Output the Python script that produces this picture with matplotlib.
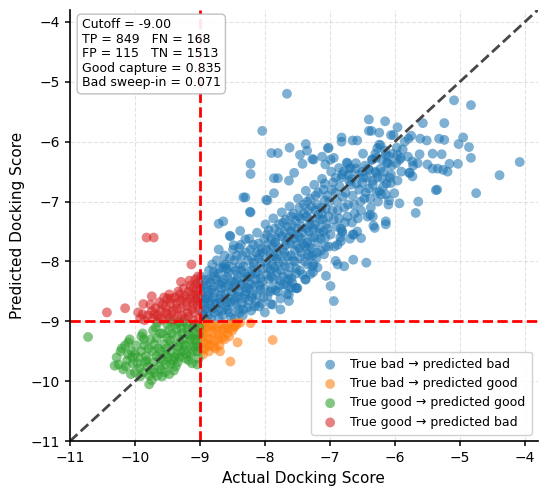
import matplotlib
matplotlib.use("Agg")
import matplotlib.pyplot as plt

# --- CONFIGURATION ---
cutoff = -9.00
axis_min, axis_max = -11.0, -3.8
output_filename = "out.png"

# --- DATA (actual, predicted) ---
# True bad -> predicted bad (actual > cutoff, predicted > cutoff)
bad_bad = [
    # dense core, slices along actual score
    (-8.98, -8.25), (-8.95, -8.4), (-8.97, -8.55), (-8.93, -8.7), (-8.96, -8.85), (-8.92, -8.97),
    (-8.9, -8.3), (-8.88, -8.5), (-8.91, -8.62), (-8.89, -8.78), (-8.94, -8.9), (-8.99, -8.68),
    (-8.86, -8.15), (-8.84, -8.35), (-8.82, -8.47), (-8.8, -8.6), (-8.85, -8.72), (-8.78, -8.85),
    (-8.83, -8.95), (-8.77, -8.25), (-8.76, -8.7), (-8.81, -8.05), (-8.79, -8.42), (-8.87, -8.58),
    (-8.74, -7.98), (-8.72, -8.2), (-8.7, -8.38), (-8.68, -8.55), (-8.73, -8.7), (-8.66, -8.82),
    (-8.71, -8.95), (-8.64, -8.1), (-8.69, -8.62), (-8.63, -8.3), (-8.67, -8.45), (-8.65, -8.9),
    (-8.62, -7.9), (-8.6, -8.05), (-8.58, -8.25), (-8.55, -8.4), (-8.61, -8.55), (-8.53, -8.68),
    (-8.57, -8.8), (-8.52, -8.93), (-8.59, -8.12), (-8.51, -8.33), (-8.56, -8.6), (-8.54, -7.95),
    (-8.6, -8.75), (-8.49, -7.8), (-8.47, -7.98), (-8.45, -8.15), (-8.43, -8.3), (-8.48, -8.45),
    (-8.41, -8.58), (-8.44, -8.72), (-8.39, -8.86), (-8.46, -8.95), (-8.38, -8.05), (-8.42, -8.22),
    (-8.4, -8.5), (-8.47, -8.65), (-8.37, -7.72), (-8.35, -7.9), (-8.33, -8.08), (-8.31, -8.2),
    (-8.36, -8.37), (-8.29, -8.5), (-8.32, -8.62), (-8.27, -8.77), (-8.34, -8.9), (-8.26, -7.98),
    (-8.3, -8.3), (-8.28, -8.44), (-8.35, -8.7), (-8.24, -7.62), (-8.22, -7.8), (-8.2, -7.95),
    (-8.18, -8.1), (-8.23, -8.25), (-8.16, -8.4), (-8.19, -8.55), (-8.14, -8.68), (-8.21, -8.82),
    (-8.13, -7.85), (-8.17, -8.02), (-8.15, -8.3), (-8.2, -8.6), (-8.24, -8.45), (-8.12, -7.52),
    (-8.1, -7.7), (-8.08, -7.88), (-8.06, -8.02), (-8.11, -8.18), (-8.04, -8.33), (-8.07, -8.47),
    (-8.02, -8.6), (-8.09, -8.75), (-8.01, -7.62), (-8.05, -7.78), (-8.03, -8.12), (-8.08, -8.4),
    (-8.0, -8.85), (-7.99, -7.38), (-7.97, -7.55), (-7.95, -7.7), (-7.93, -7.85), (-7.98, -8.0),
    (-7.91, -8.15), (-7.94, -8.3), (-7.89, -8.45), (-7.96, -8.58), (-7.88, -8.72), (-7.9, -7.62),
    (-7.92, -7.95), (-7.97, -8.22), (-7.89, -8.05), (-7.87, -7.28), (-7.85, -7.45), (-7.83, -7.6),
    (-7.81, -7.75), (-7.86, -7.9), (-7.79, -8.02), (-7.82, -8.18), (-7.77, -8.32), (-7.84, -8.48),
    (-7.76, -8.62), (-7.78, -7.52), (-7.8, -7.88), (-7.85, -8.1), (-7.77, -8.4), (-7.74, -7.18),
    (-7.72, -7.35), (-7.7, -7.5), (-7.68, -7.65), (-7.73, -7.8), (-7.66, -7.92), (-7.69, -8.08),
    (-7.64, -8.22), (-7.71, -8.38), (-7.63, -8.55), (-7.65, -7.42), (-7.67, -7.72), (-7.72, -8.0),
    (-7.64, -8.3), (-7.62, -7.08), (-7.6, -7.25), (-7.58, -7.4), (-7.56, -7.55), (-7.61, -7.7),
    (-7.54, -7.82), (-7.57, -7.98), (-7.52, -8.12), (-7.59, -8.28), (-7.51, -8.45), (-7.53, -7.32),
    (-7.55, -7.62), (-7.6, -7.9), (-7.52, -8.2), (-7.49, -6.95), (-7.47, -7.1), (-7.45, -7.28),
    (-7.43, -7.42), (-7.48, -7.58), (-7.41, -7.7), (-7.44, -7.85), (-7.39, -8.0), (-7.46, -8.15),
    (-7.38, -8.3), (-7.4, -7.2), (-7.42, -7.52), (-7.47, -7.78), (-7.37, -6.82), (-7.35, -7.0),
    (-7.33, -7.15), (-7.31, -7.3), (-7.36, -7.45), (-7.29, -7.6), (-7.32, -7.75), (-7.27, -7.9),
    (-7.34, -8.05), (-7.26, -8.18), (-7.28, -7.08), (-7.3, -7.38), (-7.35, -7.68), (-7.24, -6.72),
    (-7.22, -6.9), (-7.2, -7.05), (-7.18, -7.22), (-7.23, -7.38), (-7.16, -7.52), (-7.19, -7.68),
    (-7.14, -7.82), (-7.21, -7.95), (-7.13, -7.1), (-7.17, -7.45), (-7.12, -6.62), (-7.1, -6.8),
    (-7.08, -6.98), (-7.06, -7.12), (-7.11, -7.3), (-7.04, -7.45), (-7.07, -7.6), (-7.02, -7.75),
    (-7.09, -7.88), (-7.01, -7.0), (-7.05, -7.38), (-6.98, -6.5), (-6.95, -6.68), (-6.92, -6.85),
    (-6.89, -7.0), (-6.96, -7.15), (-6.86, -7.28), (-6.9, -7.42), (-6.84, -7.6), (-6.93, -7.75),
    (-6.8, -6.92), (-6.78, -7.1), (-6.82, -6.6), (-6.77, -7.35), (-6.74, -6.35), (-6.71, -6.55),
    (-6.68, -6.72), (-6.65, -6.9), (-6.72, -7.05), (-6.62, -7.2), (-6.66, -7.35), (-6.58, -7.5),
    (-6.69, -7.62), (-6.55, -6.8), (-6.53, -7.0), (-6.6, -6.45), (-6.57, -7.28), (-6.49, -6.2),
    (-6.46, -6.4), (-6.43, -6.6), (-6.4, -6.78), (-6.47, -6.95), (-6.37, -7.1), (-6.42, -7.25),
    (-6.33, -7.4), (-6.3, -6.5), (-6.28, -6.85), (-6.35, -6.3), (-6.26, -7.0), (-6.24, -6.05),
    (-6.2, -6.3), (-6.17, -6.5), (-6.13, -6.7), (-6.21, -6.88), (-6.1, -7.05), (-6.05, -6.4),
    (-6.03, -6.2), (-6.08, -6.6), (-6.15, -6.15), (-5.97, -6.1), (-5.93, -6.3), (-5.9, -6.5),
    (-5.85, -6.0), (-5.8, -6.25), (-5.75, -5.9), (-5.72, -6.4),
    # second pass over the core, filling the gaps
    (-8.99, -8.4), (-8.96, -8.62), (-8.93, -8.8), (-8.91, -8.45), (-8.88, -8.92), (-8.86, -8.3),
    (-8.84, -8.65), (-8.81, -8.8), (-8.79, -8.18), (-8.77, -8.52), (-8.74, -8.3), (-8.72, -8.82),
    (-8.7, -8.12), (-8.68, -8.68), (-8.66, -8.35), (-8.63, -8.05), (-8.61, -8.42), (-8.58, -8.68),
    (-8.56, -8.18), (-8.54, -8.85), (-8.51, -8.5), (-8.5, -8.1), (-8.47, -8.35), (-8.45, -8.6),
    (-8.43, -7.9), (-8.41, -8.8), (-8.38, -8.4), (-8.36, -8.15), (-8.33, -8.8), (-8.31, -8.55),
    (-8.29, -7.85), (-8.27, -8.25), (-8.25, -8.65), (-8.22, -8.38), (-8.2, -8.15), (-8.18, -7.72),
    (-8.16, -8.75), (-8.14, -8.2), (-8.12, -8.55), (-8.1, -7.95), (-8.07, -8.28), (-8.05, -8.7),
    (-8.03, -7.85), (-8.01, -8.45), (-7.98, -7.8), (-7.96, -8.1), (-7.94, -7.48), (-7.92, -8.5),
    (-7.9, -8.25), (-7.88, -7.75), (-7.86, -8.3), (-7.84, -7.68), (-7.82, -7.95), (-7.8, -8.5),
    (-7.78, -7.38), (-7.76, -8.15), (-7.74, -7.58), (-7.72, -8.25), (-7.7, -7.85), (-7.68, -7.3),
    (-7.66, -8.4), (-7.64, -7.6), (-7.62, -8.1), (-7.6, -7.5), (-7.58, -8.35), (-7.56, -7.2),
    (-7.54, -8.0), (-7.52, -7.72), (-7.5, -7.45), (-7.48, -7.25), (-7.46, -7.95), (-7.44, -7.62),
    (-7.42, -8.22), (-7.4, -7.05), (-7.38, -7.75), (-7.36, -7.25), (-7.34, -7.88), (-7.32, -7.5),
    (-7.3, -6.95), (-7.28, -7.78), (-7.26, -7.45), (-7.24, -7.6), (-7.22, -7.15), (-7.2, -7.85),
    (-7.18, -6.85), (-7.16, -7.3), (-7.14, -7.62), (-7.12, -7.2), (-7.1, -7.5), (-7.08, -6.7),
    (-7.06, -7.75), (-7.04, -6.9), (-7.02, -7.25), (-6.99, -7.55), (-6.97, -6.8), (-6.94, -7.3),
    (-6.91, -6.6), (-6.88, -7.15), (-6.85, -6.75), (-6.83, -7.45), (-6.79, -6.5), (-6.76, -6.85),
    (-6.73, -7.25), (-6.7, -6.45), (-6.67, -6.62), (-6.63, -7.05), (-6.59, -6.7), (-6.56, -6.55),
    (-6.52, -7.15), (-6.48, -6.6), (-6.45, -6.85), (-6.41, -6.45), (-6.38, -6.95), (-6.34, -6.65),
    (-6.3, -6.2), (-6.27, -6.6), (-6.22, -6.45), (-6.18, -6.75), (-6.12, -6.35), (-6.06, -6.55),
    # sparser points and outliers
    (-7.66, -5.20), (-5.09, -5.31), (-4.83, -5.39), (-6.40, -5.63), (-6.15, -5.66), (-5.96, -5.76),
    (-5.57, -5.69), (-5.24, -5.69), (-6.40, -5.82), (-6.36, -5.82), (-6.24, -5.85), (-6.06, -5.89),
    (-6.02, -5.89), (-6.82, -5.93), (-6.82, -6.00), (-6.65, -5.98), (-6.58, -5.98), (-5.79, -5.95),
    (-5.61, -5.95), (-5.51, -5.98), (-5.32, -5.95), (-5.24, -5.97), (-4.95, -5.93), (-5.02, -6.04),
    (-4.86, -6.09), (-4.83, -6.27), (-4.08, -6.34), (-4.39, -6.56), (-4.75, -6.86), (-5.03, -6.37),
    (-5.16, -6.37), (-5.42, -6.20), (-5.28, -6.21), (-5.50, -6.38), (-5.42, -6.45), (-5.34, -6.45),
    (-5.26, -6.47), (-5.19, -6.50), (-5.62, -6.21), (-5.65, -6.36), (-5.73, -6.33), (-5.77, -6.52),
    (-5.73, -6.58), (-5.37, -6.81), (-5.35, -6.80), (-5.64, -7.00), (-5.68, -7.19), (-5.93, -7.03),
    (-6.14, -7.33), (-6.14, -7.38), (-6.31, -7.44), (-6.34, -7.25), (-6.38, -7.22), (-6.63, -7.55),
    (-6.52, -7.61), (-6.81, -7.49), (-6.83, -7.66), (-7.80, -6.19), (-7.62, -6.10), (-7.46, -6.22),
    (-7.37, -6.04), (-7.35, -6.15), (-7.02, -6.10), (-7.27, -6.29), (-7.12, -6.25), (-7.07, -6.38),
    (-6.99, -6.30), (-6.94, -6.27), (-6.86, -6.44), (-6.73, -6.36), (-6.68, -6.44), (-6.60, -6.36),
    (-6.81, -6.55), (-6.27, -6.11), (-6.22, -6.06), (-6.35, -6.30), (-6.29, -6.27), (-6.14, -6.22),
    (-6.09, -6.25), (-5.96, -6.22), (-5.88, -6.13), (-5.91, -6.27), (-5.98, -6.36), (-6.11, -6.36),
    (-6.50, -6.50), (-6.40, -6.47), (-6.29, -6.52), (-6.19, -6.61), (-6.06, -6.69), (-5.96, -6.65),
    (-5.78, -6.52), (-6.70, -6.66), (-6.50, -6.69), (-6.34, -6.72), (-6.24, -6.83), (-6.14, -6.88),
    (-6.01, -6.86), (-6.09, -6.98), (-8.04, -5.82), (-8.22, -6.37), (-8.22, -6.54), (-8.30, -6.93),
    (-8.23, -7.17), (-7.96, -6.98), (-7.86, -6.86), (-8.71, -7.37), (-8.64, -7.33), (-8.53, -7.58),
    (-8.38, -7.49), (-8.71, -7.80), (-7.90, -6.19), (-7.86, -6.61), (-7.80, -6.61), (-7.63, -6.65),
    (-7.55, -6.52), (-7.42, -6.37), (-7.25, -6.30), (-7.03, -6.11), (-8.33, -6.93), (-7.98, -6.97),
    (-8.22, -7.18), (-8.54, -7.57), (-8.48, -7.73), (-8.40, -7.77), (-8.30, -7.63), (-7.91, -8.71),
    (-7.76, -8.80), (-7.60, -8.44), (-7.50, -8.44), (-7.37, -8.30), (-6.99, -8.41), (-6.94, -8.66),
    (-7.06, -8.24), (-7.19, -8.10), (-7.25, -8.05), (-7.32, -7.91), (-6.91, -7.99), (-6.88, -8.05),
    (-6.78, -8.08), (-6.64, -7.97), (-6.44, -8.02), (-6.88, -7.72), (-6.81, -7.52), (-6.65, -7.55),
    (-7.66, -8.54), (-7.63, -8.66), (-7.53, -8.44), (-7.30, -8.21), (-7.27, -8.08),
]

# True bad -> predicted good (actual > cutoff, predicted < cutoff)
bad_good = [
    (-8.97, -9.05), (-8.95, -9.2), (-8.93, -9.35), (-8.96, -9.48), (-8.9, -9.1), (-8.88, -9.28),
    (-8.85, -9.4), (-8.83, -9.05), (-8.8, -9.18), (-8.78, -9.32), (-8.75, -9.08), (-8.72, -9.22),
    (-8.7, -9.4), (-8.68, -9.05), (-8.65, -9.15), (-8.62, -9.3), (-8.6, -9.05), (-8.57, -9.12),
    (-8.55, -9.25), (-8.52, -9.05), (-8.48, -9.1), (-8.45, -9.03), (-8.43, -9.05), (-8.42, -9.35),
    (-8.53, -9.67), (-8.22, -9.03), (-7.88, -9.31), (-8.38, -9.02), (-8.99, -9.3), (-8.92, -9.45),
    (-8.86, -9.5), (-8.98, -9.15), (-8.91, -9.02), (-8.76, -9.45), (-8.66, -9.28),
    (-8.97, -9.25), (-8.94, -9.12), (-8.9, -9.38), (-8.87, -9.18), (-8.84, -9.3), (-8.81, -9.08),
    (-8.79, -9.42), (-8.74, -9.15), (-8.71, -9.3), (-8.63, -9.12), (-8.58, -9.2), (-8.5, -9.15),
    (-8.46, -9.08), (-8.95, -9.55), (-8.69, -9.5),
]

# True good -> predicted good (actual < cutoff, predicted < cutoff)
good_good = [
    (-10.72, -9.26), (-10.31, -9.74), (-10.28, -9.6), (-10.25, -9.72), (-10.22, -9.5), (-10.18, -9.8),
    (-10.15, -9.4), (-10.12, -9.65), (-10.1, -9.35), (-10.2, -9.45), (-10.08, -9.3), (-10.05, -9.5),
    (-10.03, -9.7), (-10.0, -9.85), (-9.98, -9.4), (-9.95, -9.6), (-9.93, -9.78), (-9.9, -9.25),
    (-9.92, -9.92), (-10.06, -9.88), (-9.88, -9.2), (-9.85, -9.4), (-9.83, -9.58), (-9.8, -9.75),
    (-9.78, -9.9), (-9.76, -9.3), (-9.73, -9.5), (-9.71, -9.68), (-9.74, -9.98), (-9.78, -10.05),
    (-9.87, -9.85), (-9.72, -9.15), (-9.68, -9.1), (-9.66, -9.28), (-9.64, -9.45), (-9.62, -9.62),
    (-9.6, -9.8), (-9.57, -9.2), (-9.55, -9.38), (-9.53, -9.55), (-9.52, -9.72), (-9.58, -9.92),
    (-9.65, -9.02), (-9.5, -9.05), (-9.48, -9.15), (-9.46, -9.32), (-9.44, -9.5), (-9.42, -9.65),
    (-9.4, -9.82), (-9.38, -9.05), (-9.35, -9.25), (-9.33, -9.42), (-9.31, -9.6), (-9.37, -9.75),
    (-9.45, -9.0), (-9.32, -9.02), (-9.28, -9.12), (-9.26, -9.3), (-9.24, -9.48), (-9.22, -9.62),
    (-9.2, -9.05), (-9.18, -9.22), (-9.16, -9.4), (-9.14, -9.55), (-9.12, -9.7), (-9.25, -9.0),
    (-9.11, -9.1), (-9.08, -9.05), (-9.06, -9.2), (-9.05, -9.35), (-9.03, -9.5), (-9.02, -9.62),
    (-9.09, -9.42), (-9.01, -9.1), (-9.04, -9.72), (-9.66, -9.91), (-9.82, -9.65), (-9.7, -9.85),
    (-9.47, -9.88), (-9.6, -9.5), (-9.35, -9.55), (-9.15, -9.3), (-9.5, -9.28), (-9.9, -9.5),
    (-10.0, -9.55), (-9.96, -9.7), (-9.86, -9.3), (-9.84, -9.68), (-9.79, -9.45), (-9.75, -9.82),
    (-9.7, -9.38), (-9.67, -9.58), (-9.63, -9.75), (-9.61, -9.2), (-9.56, -9.65), (-9.54, -9.85),
    (-9.51, -9.45), (-9.49, -9.6), (-9.45, -9.72), (-9.43, -9.2), (-9.41, -9.4), (-9.39, -9.6),
    (-9.36, -9.12), (-9.34, -9.68), (-9.3, -9.35), (-9.29, -9.5), (-9.27, -9.2), (-9.23, -9.4),
    (-9.21, -9.55), (-9.19, -9.12), (-9.17, -9.65), (-9.13, -9.25), (-9.1, -9.5), (-9.07, -9.3),
    (-9.03, -9.42), (-9.02, -9.22), (-10.1, -9.55), (-10.14, -9.75), (-10.04, -9.6),
]

# True good -> predicted bad (actual < cutoff, predicted > cutoff)
good_bad = [
    (-10.43, -8.85), (-10.15, -8.78), (-9.82, -7.60), (-9.71, -7.60), (-9.13, -8.05), (-9.29, -8.34),
    (-9.95, -8.85), (-9.87, -8.71), (-9.74, -8.58),
    (-9.92, -8.95), (-9.88, -8.88), (-9.85, -8.98), (-9.8, -8.9), (-9.76, -8.72), (-9.74, -8.83),
    (-9.72, -8.95), (-9.68, -8.78), (-9.65, -8.9), (-9.62, -8.68), (-9.6, -8.82), (-9.58, -8.97),
    (-9.55, -8.6), (-9.52, -8.75), (-9.5, -8.88), (-9.47, -8.55), (-9.45, -8.7), (-9.43, -8.85),
    (-9.4, -8.97), (-9.38, -8.6), (-9.35, -8.78), (-9.33, -8.5), (-9.3, -8.65), (-9.28, -8.9),
    (-9.25, -8.45), (-9.22, -8.58), (-9.2, -8.75), (-9.18, -8.92), (-9.15, -8.4), (-9.13, -8.55),
    (-9.11, -8.7), (-9.09, -8.85), (-9.07, -8.3), (-9.05, -8.48), (-9.04, -8.62), (-9.02, -8.8),
    (-9.01, -8.95), (-9.03, -8.25), (-9.06, -8.38), (-9.1, -8.98), (-9.5, -8.62),
    (-9.02, -8.35), (-9.04, -8.72), (-9.06, -8.55), (-9.08, -8.65), (-9.1, -8.45), (-9.12, -8.8),
    (-9.14, -8.62), (-9.17, -8.5), (-9.19, -8.85), (-9.21, -8.68), (-9.23, -8.95), (-9.26, -8.62),
    (-9.29, -8.78), (-9.31, -8.55), (-9.34, -8.92), (-9.36, -8.7), (-9.41, -8.82), (-9.44, -8.62),
    (-9.48, -8.95), (-9.53, -8.85), (-9.57, -8.72), (-9.63, -8.95), (-9.7, -8.88), (-9.16, -8.32),
    (-9.02, -8.55),
]

groups = [
    ("True bad \u2192 predicted bad", bad_bad, "#1f77b4"),
    ("True bad \u2192 predicted good", bad_good, "#ff7f0e"),
    ("True good \u2192 predicted good", good_good, "#2ca02c"),
    ("True good \u2192 predicted bad", good_bad, "#d62728"),
]

tp, fn, fp, tn = 849, 168, 115, 1513
good_capture = 0.835
bad_sweep_in = 0.071

# --- PLOT ---
fig, ax = plt.subplots(figsize=(5.5, 4.93), dpi=100)
fig.subplots_adjust(left=0.127, right=0.978, bottom=0.105, top=0.980)

for label, pts, color in groups:
    xs = [p[0] for p in pts]
    ys = [p[1] for p in pts]
    ax.scatter(xs, ys, s=50, color=color, alpha=0.58, edgecolors="none", label=label)

ax.plot([axis_min, axis_max], [axis_min, axis_max], linestyle="--", color="#333333",
        linewidth=2.0, alpha=0.9)
ax.axvline(cutoff, color="red", linestyle="--", linewidth=2.0)
ax.axhline(cutoff, color="red", linestyle="--", linewidth=2.0)

ax.set_xlim(axis_min, axis_max)
ax.set_ylim(axis_min, axis_max)
ax.set_xticks(range(-11, -3))
ax.set_yticks(range(-11, -3))
ax.grid(True, linestyle="--", alpha=0.35)
ax.spines["top"].set_visible(False)
ax.spines["right"].set_visible(False)
ax.spines["left"].set_linewidth(1.2)
ax.spines["bottom"].set_linewidth(1.2)
ax.tick_params(labelsize=10, width=1.1)

ax.set_xlabel("Actual Docking Score", fontsize=11)
ax.set_ylabel("Predicted Docking Score", fontsize=11)

stats = (f"Cutoff = {cutoff:.2f}\n"
         f"TP = {tp}   FN = {fn}\n"
         f"FP = {fp}   TN = {tn}\n"
         f"Good capture = {good_capture:.3f}\n"
         f"Bad sweep-in = {bad_sweep_in:.3f}")
ax.text(0.025, 0.98, stats, transform=ax.transAxes, fontsize=9, va="top", ha="left",
        linespacing=1.15,
        bbox=dict(boxstyle="round,pad=0.35", facecolor="white", edgecolor="#bbbbbb", alpha=0.9))

ax.legend(loc="lower right", fontsize=9, framealpha=0.9, handletextpad=0.6, borderpad=0.5)

plt.savefig(output_filename, dpi=100)
print(f"Saved {output_filename}")
